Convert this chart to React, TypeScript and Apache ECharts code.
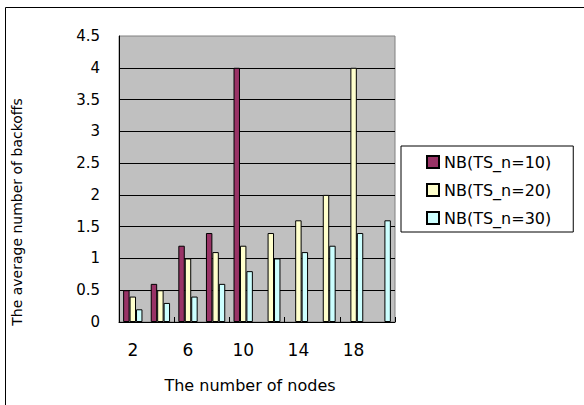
import React, { useEffect, useRef } from "react";
import * as echarts from "echarts";

const categories = ["2", "4", "6", "8", "10", "12", "14", "16", "18", "20"];
const nb10 = [0.5, 0.6, 1.2, 1.4, 4.0, null, null, null, null, null];
const nb20 = [0.4, 0.5, 1.0, 1.1, 1.2, 1.4, 1.6, 2.0, 4.0, null];
const nb30 = [0.2, 0.3, 0.4, 0.6, 0.8, 1.0, 1.1, 1.2, 1.4, 1.6];
const seriesNames = ["NB(TS_n=10)", "NB(TS_n=20)", "NB(TS_n=30)"];
const seriesColors = ["#993366", "#FFFFCC", "#CCFFFF"];
const xTitle = "The number of nodes";
const yTitle = "The average number of backoffs";

const FONT = "DejaVu Sans";

export default function App() {
  const ref = useRef<HTMLDivElement>(null);
  useEffect(() => {
    document.body.style.margin = "0";
    const chart = echarts.init(ref.current!, null, { renderer: "svg" });
    const values = [nb10, nb20, nb30];
    chart.setOption({
      animation: false,
      backgroundColor: "#ffffff",
      textStyle: { fontFamily: FONT },
      grid: {
        left: 119,
        top: 36,
        right: 189,
        bottom: 83,
        show: true,
        backgroundColor: "#C0C0C0",
        borderColor: "#808080",
        borderWidth: 1,
      },
      legend: {
        orient: "vertical",
        left: 401,
        top: 146,
        padding: [8, 22, 6, 25],
        itemWidth: 12,
        itemHeight: 12,
        itemGap: 12,
        borderColor: "#000",
        borderWidth: 1,
        icon: "rect",
        textStyle: { fontFamily: FONT, fontSize: 16, color: "#000" },
        data: seriesNames,
      },
      xAxis: {
        type: "category",
        data: categories,
        axisLine: { show: true, lineStyle: { color: "#000", width: 1 } },
        axisTick: { show: true, inside: true, length: 5, interval: 1, lineStyle: { color: "#000" } },
        axisLabel: { interval: 1, margin: 19, fontFamily: FONT, fontSize: 17, color: "#000" },
        splitLine: { show: false },
      },
      yAxis: {
        type: "value",
        min: 0,
        max: 4.5,
        interval: 0.5,
        axisLine: { show: true, lineStyle: { color: "#000", width: 1 } },
        axisTick: { show: false },
        axisLabel: { margin: 19, fontFamily: FONT, fontSize: 15, color: "#000" },
        splitLine: { show: true, showMaxLine: false, lineStyle: { color: "#000", width: 1 } },
      },
      series: values.map((v, i) => ({
        type: "bar",
        name: seriesNames[i],
        data: v,
        barGap: "0%",
        barCategoryGap: "30%",
        itemStyle: { color: seriesColors[i], borderColor: "#000", borderWidth: 1 },
      })),
      graphic: [
        {
          type: "rect",
          silent: true,
          shape: { x: 5.5, y: 7.5, width: 700, height: 600 },
          style: { fill: "none", stroke: "#000", lineWidth: 1 },
          z: 100,
        },
        {
          type: "text",
          x: 250,
          y: 385,
          style: {
            text: xTitle,
            fontFamily: FONT,
            fontSize: 16,
            fill: "#000",
            align: "center",
            verticalAlign: "middle",
          },
        },
        {
          type: "text",
          x: 17,
          y: 212,
          rotation: Math.PI / 2,
          style: {
            text: yTitle,
            fontFamily: FONT,
            fontSize: 14,
            fill: "#000",
            align: "center",
            verticalAlign: "middle",
          },
        },
      ],
    });
    return () => chart.dispose();
  }, []);
  return <div ref={ref} style={{ width: 584, height: 405 }} />;
}
